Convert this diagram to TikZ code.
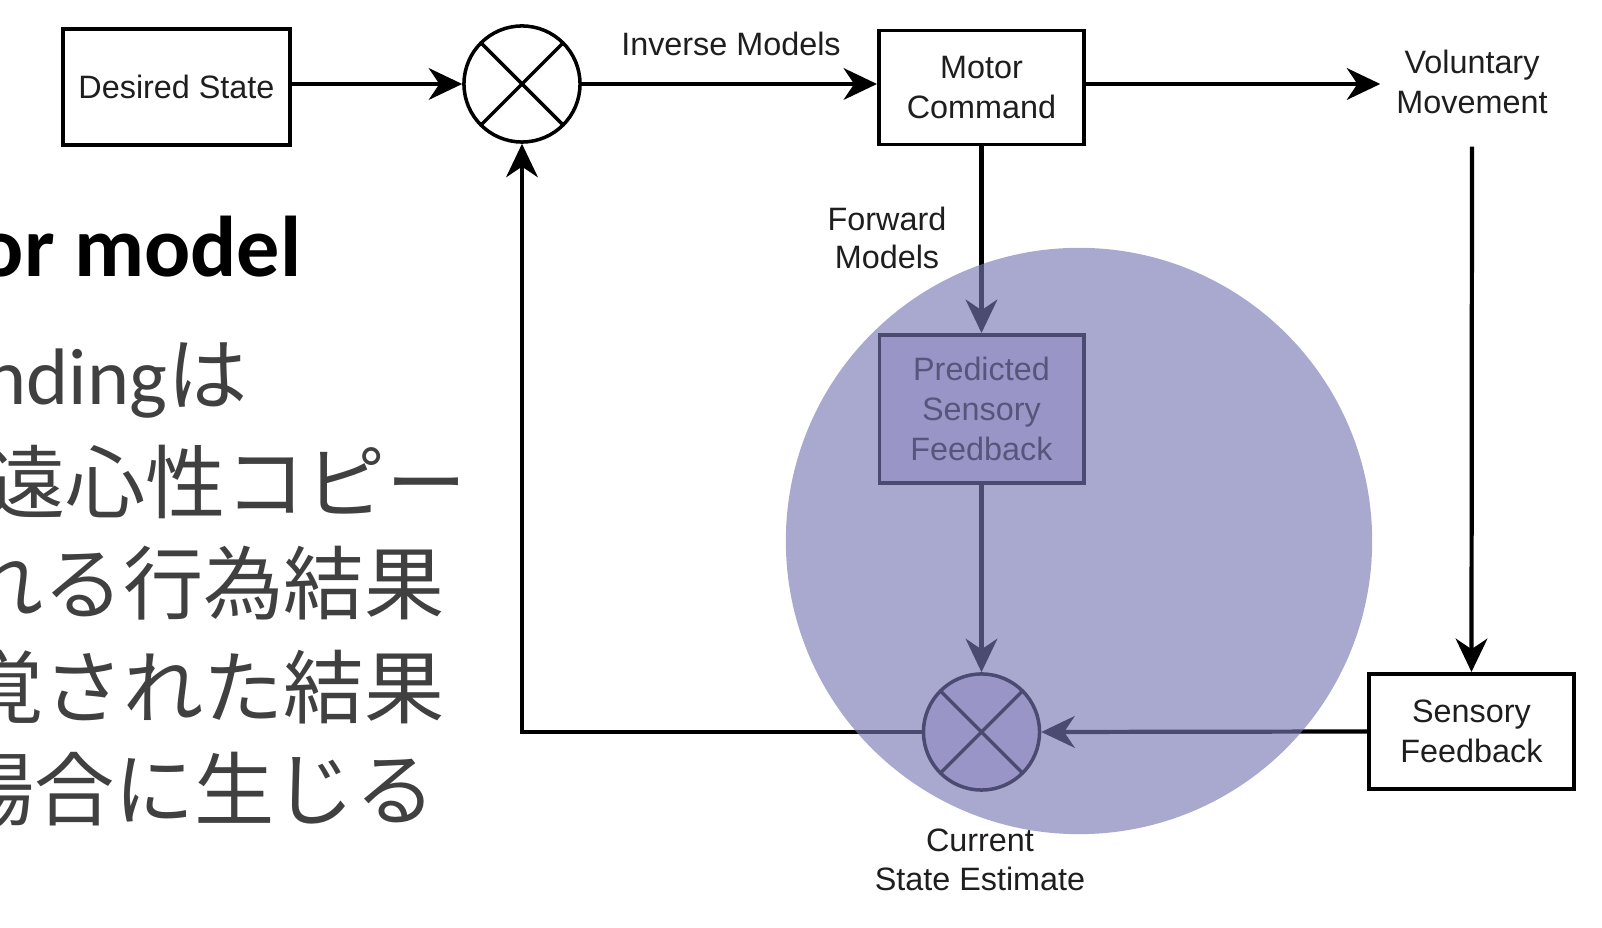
\documentclass[tikz,border=0pt]{standalone}
\usepackage{fontspec}
\setmainfont{Liberation Sans}
\newfontfamily\cjkfont{Noto Sans CJK JP}
\newfontfamily\calfont{Carlito}
\usetikzlibrary{arrows.meta}
\definecolor{overlaycol}{RGB}{119,119,181}
\definecolor{predfill}{RGB}{213,203,232}
\definecolor{jgray}{RGB}{64,64,64}
\definecolor{dtext}{RGB}{30,30,30}
\newcommand{\diagfont}{\fontsize{9.2}{11.4}\selectfont}
\newcommand{\slidefont}{\fontsize{22.8}{29}\selectfont}
\begin{document}
\begin{tikzpicture}[x=0.01cm,y=-0.01cm,
  box/.style={draw=black, line width=1.1pt, rectangle, minimum width=2.05cm,
    minimum height=1.14cm, align=center, inner sep=0pt, font=\diagfont, text=dtext},
  sumnode/.style={draw=black, line width=1pt, circle, minimum size=1.16cm, inner sep=0pt,
    path picture={\draw[line width=1pt] (path picture bounding box.north west) -- (path picture bounding box.south east)
      (path picture bounding box.north east) -- (path picture bounding box.south west);}},
  lbl/.style={align=center, font=\diagfont, text=dtext, inner sep=0pt},
  arr/.style={-{Stealth[length=9.5pt,width=9pt,inset=3pt]}, line width=1.2pt},
  jline/.style={anchor=base east, inner sep=0pt, text=jgray, font=\slidefont}
]
\useasboundingbox (0,0) rectangle (1602,928);
\fill[white] (0,0) rectangle (1602,928);

% slide text (cut at the left edge)
\begin{scope}
\clip (0,0) rectangle (1602,928);
\node[anchor=base east, inner sep=0pt, font=\fontsize{24.5}{29}\selectfont\calfont\bfseries] (title) at (302,277) {or model};
\node[jline] (j1) at (248,405) {\calfont nding\cjkfont は};
\node[jline] (j2) at (467,513) {\cjkfont 遠心性コピー};
\node[jline] (j3) at (445,614) {\cjkfont れる行為結果};
\node[jline] (j4) at (445,718) {\cjkfont 覚された結果};
\node[jline] (j5) at (436,820) {\cjkfont 場合に生じる};
\end{scope}

% diagram nodes
\node[box, minimum width=2.27cm, minimum height=1.16cm] (desired) at (176.5,87) {Desired State};
\node[sumnode] (sum1) at (522,84) {};
\node[box] (motor) at (981.5,87.5) {Motor\\Command};
\node[lbl, inner xsep=0.155cm, inner ysep=0.32cm] (vol) at (1472,82) {Voluntary\\Movement};
\node[box, minimum height=1.15cm] (sens) at (1471.5,731.5) {Sensory\\Feedback};
\node[box, fill=predfill, minimum width=2.04cm, minimum height=1.48cm] (pred) at (981.5,409) {Predicted\\Sensory\\Feedback};
\node[sumnode, fill=predfill] (sum2) at (981.5,732) {};

% labels
\node[lbl] (inv) at (731,44) {Inverse Models};
\node[lbl, font=\fontsize{9.2}{10.9}\selectfont] (fwd) at (887,238) {Forward\\Models};
\node[lbl, font=\fontsize{9.2}{10.9}\selectfont] (cur) at (980,860) {Current\\State Estimate};

% connectors
\draw[arr] (desired.east |- sum1) -- (sum1.west);
\draw[arr] (sum1.east) -- (sum1 -| motor.west);
\draw[arr] (motor.east |- sum1) -- (sum1 -| vol.west);
\draw[arr] (vol.south) -- (sens.north);
\draw[arr] (sens.west) -- (sum2.east);
\draw[arr] (motor.south) -- (pred.north);
\draw[arr] (pred.south) -- (sum2.north);
\draw[arr] (sum2.west) -| (sum1.south);

% translucent highlight circle
\fill[overlaycol, fill opacity=0.63] (1079,541) circle (2.93cm);
\end{tikzpicture}
\end{document}
